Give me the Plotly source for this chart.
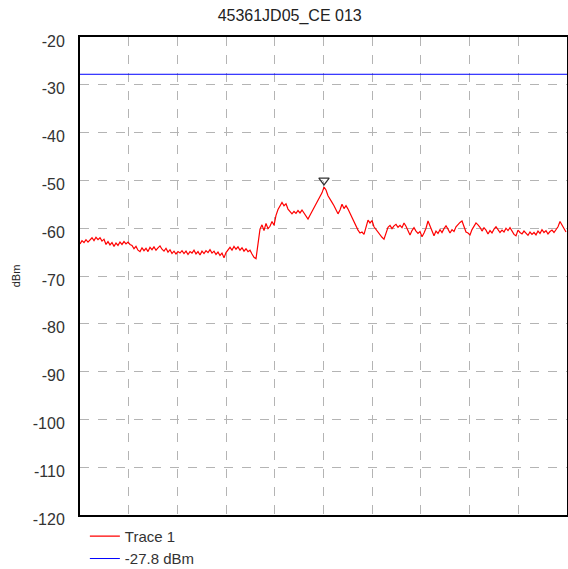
import plotly.graph_objects as go

title_text = "45361JD05_CE 013"
y_label = "dBm"
y_ticks = [-120, -110, -100, -90, -80, -70, -60, -50, -40, -30, -20]
limit_level = -27.8
limit_name = "-27.8 dBm"
trace_name = "Trace 1"

trace_values = [
    # low floor, left part
    -63.3, -62.6, -63.0, -62.4, -62.9, -62.5, -62.0, -62.6, -61.9, -62.4,
    -62.0, -62.7, -62.3, -63.4, -62.8, -63.5, -63.0, -63.8, -63.1, -63.6,
    -62.9, -63.4, -62.8, -63.3, -62.9, -63.4,
    -63.6, -64.3, -63.8, -64.6, -64.9, -64.1, -64.7, -64.2, -64.9, -64.0,
    -64.5, -63.9, -64.6, -64.1, -63.7, -64.4, -64.8, -64.2, -65.0, -64.5,
    -65.3, -64.8, -65.4, -64.9, -65.2, -64.7, -65.3, -64.8, -65.5, -64.9,
    -65.2, -64.6, -65.4, -64.9, -65.6, -64.8, -65.3, -64.7, -65.1, -64.5,
    -65.2, -64.8, -65.5, -65.0, -65.7, -65.2, -66.2, -65.1, -64.6, -64.0,
    -64.6, -63.8, -64.4, -63.9, -64.6, -64.1, -64.8, -64.3, -64.9, -64.6,
    -65.4, -66.1, -66.4,
    # rise and peak
    -63.0, -60.2, -59.3, -60.5, -59.0, -60.1, -59.6, -58.6, -59.4, -57.3,
    -56.1, -55.2, -54.6, -55.3, -54.9, -56.0, -56.4, -57.0, -56.5, -56.9,
    -56.3, -56.8, -56.2, -56.9, -57.5, -58.1, -57.3, -56.5, -55.6, -55.0,
    -54.1, -53.4, -52.6, -51.4, -52.0, -53.2, -53.8, -54.6, -55.3, -56.1,
    -57.0, -56.2, -55.0, -55.9, -55.3, -56.0, -56.9,
    # right part
    -57.8, -58.7, -59.6, -60.4, -61.0, -60.8, -61.3, -59.9, -58.3, -58.9,
    -58.4, -59.7, -60.3, -60.8, -61.4, -61.9, -62.3, -61.0, -59.8, -59.4,
    -60.1, -59.5, -59.2, -59.8, -59.4, -59.9, -58.9, -59.6, -60.7, -61.4,
    -60.5, -59.9, -60.6, -61.1, -60.7, -61.8, -61.0, -60.0, -58.5, -59.6,
    -60.4, -61.6, -60.6, -61.1, -60.3, -60.9, -60.1, -59.5, -60.2, -61.0,
    -60.3, -60.7, -59.7, -59.2, -58.8, -58.5, -59.9, -60.8, -61.0, -61.4,
    -60.3, -59.6, -58.9, -59.3, -59.8, -60.6, -59.9, -60.4, -61.2, -60.5,
    -61.0, -60.2, -59.7, -60.3, -60.9, -60.4, -60.8, -60.0, -60.5, -59.9,
    -60.7, -61.3, -61.6, -60.4, -60.9, -61.2, -60.6, -61.1, -61.5, -60.8,
    -61.3, -60.9, -61.4, -60.6, -61.1, -60.3, -60.9, -60.5, -61.2, -60.7,
    -60.4, -60.9, -60.2, -59.7, -58.6, -59.3, -60.1, -60.8,
]

n = len(trace_values)
sample_idx = list(range(n))
x_max = (n - 1) + 0.5
x_div = x_max / 10

peak_i = max(range(n), key=lambda i: trace_values[i])
peak_v = trace_values[peak_i]

fig = go.Figure()
fig.add_trace(go.Scatter(
    x=sample_idx, y=trace_values, mode="lines", name=trace_name,
    line=dict(color="#ff0000", width=1.2),
))
fig.add_trace(go.Scatter(
    x=[0, x_max], y=[limit_level, limit_level], mode="lines", name=limit_name,
    line=dict(color="#0000ff", width=1),
))
fig.add_trace(go.Scatter(
    x=[peak_i], y=[peak_v + 1.4], mode="markers", showlegend=False,
    marker=dict(symbol="triangle-down-open", size=9,
                color="#333333", line=dict(width=1.2, color="#333333")),
))

font_family = "Liberation Sans, Arial, sans-serif"

fig.update_layout(
    width=568, height=569,
    margin=dict(l=80, r=1, t=37, b=54, autoexpand=False),
    paper_bgcolor="white", plot_bgcolor="white",
    font=dict(family=font_family, size=14, color="#333333"),
    title=dict(text=title_text, x=0.51, xref="container", xanchor="center",
               y=1 - 15 / 569, yref="container", yanchor="middle",
               font=dict(size=16, color="#222222")),
    showlegend=True,
    legend=dict(x=0.01, xanchor="left", y=-0.01, yanchor="top",
                font=dict(size=15, color="#333333"),
                bgcolor="rgba(0,0,0,0)", tracegroupgap=0,
                itemwidth=30),
)
fig.update_xaxes(
    range=[0, x_max], tick0=0, dtick=x_div, showticklabels=False,
    showgrid=True, gridcolor="#b4b4b4", griddash="dash", gridwidth=1,
    showline=True, linecolor="black", linewidth=2, mirror=True,
    zeroline=False, ticks="", automargin=False,
)
fig.update_yaxes(
    range=[-120, -20], tickvals=y_ticks, ticktext=[str(v) for v in y_ticks],
    showgrid=True, gridcolor="#b4b4b4", griddash="dash", gridwidth=1,
    showline=True, linecolor="black", linewidth=2, mirror=True,
    zeroline=False, ticks="", ticklabelstandoff=10, ticklabelshift=4,
    tickfont=dict(size=16, color="#333333"), automargin=False,
    title=dict(text=y_label, font=dict(size=11, color="#222222"), standoff=10),
)

fig.write_html(
    "out.html",
    config={"displayModeBar": False},
    post_script="document.body.style.margin='0';document.body.style.overflow='hidden';",
)
